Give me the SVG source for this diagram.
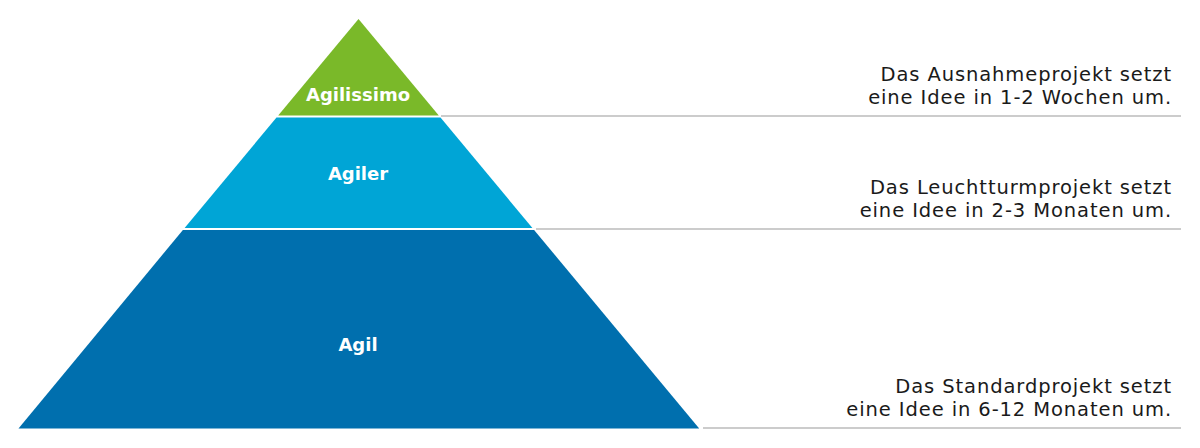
<svg xmlns="http://www.w3.org/2000/svg" width="1200" height="448" viewBox="0 0 1200 448">
<style>
.lbl{font-family:"DejaVu Sans","Verdana",sans-serif;font-weight:bold;font-size:18px;fill:#ffffff;text-anchor:middle}
.desc{font-family:"DejaVu Sans","Verdana",sans-serif;font-size:19.5px;letter-spacing:0.9px;fill:#1a1a1a;text-anchor:end}
.rule{stroke:#cccccc;stroke-width:2;fill:none}
</style>
<rect width="1200" height="448" fill="#ffffff"/>
<g id="connectors">
<line class="rule" x1="441" y1="116" x2="1181" y2="116"/>
<line class="rule" x1="536" y1="229" x2="1181" y2="229"/>
<line class="rule" x1="703" y1="428" x2="1181" y2="428"/>
</g>
<g id="agilissimo">
<polygon points="358.5,19 438.8,115.5 278.2,115.5" fill="#7ab929"/>
<text class="lbl" x="358" y="101">Agilissimo</text>
</g>
<g id="agiler">
<polygon points="276.5,117.5 440.5,117.5 532.4,228 184.6,228" fill="#00a5d6"/>
<text class="lbl" x="358" y="180">Agiler</text>
</g>
<g id="agil">
<polygon points="182.9,230 534.1,230 699.2,428.5 18.5,428.5" fill="#006fae"/>
<text class="lbl" x="358" y="351">Agil</text>
</g>
<g id="desc1">
<text class="desc" x="1172" y="81">Das Ausnahmeprojekt setzt</text>
<text class="desc" x="1172" y="104">eine Idee in 1-2 Wochen um.</text>
</g>
<g id="desc2">
<text class="desc" x="1172" y="194">Das Leuchtturmprojekt setzt</text>
<text class="desc" x="1172" y="217">eine Idee in 2-3 Monaten um.</text>
</g>
<g id="desc3">
<text class="desc" x="1172" y="393">Das Standardprojekt setzt</text>
<text class="desc" x="1172" y="416">eine Idee in 6-12 Monaten um.</text>
</g>
</svg>
